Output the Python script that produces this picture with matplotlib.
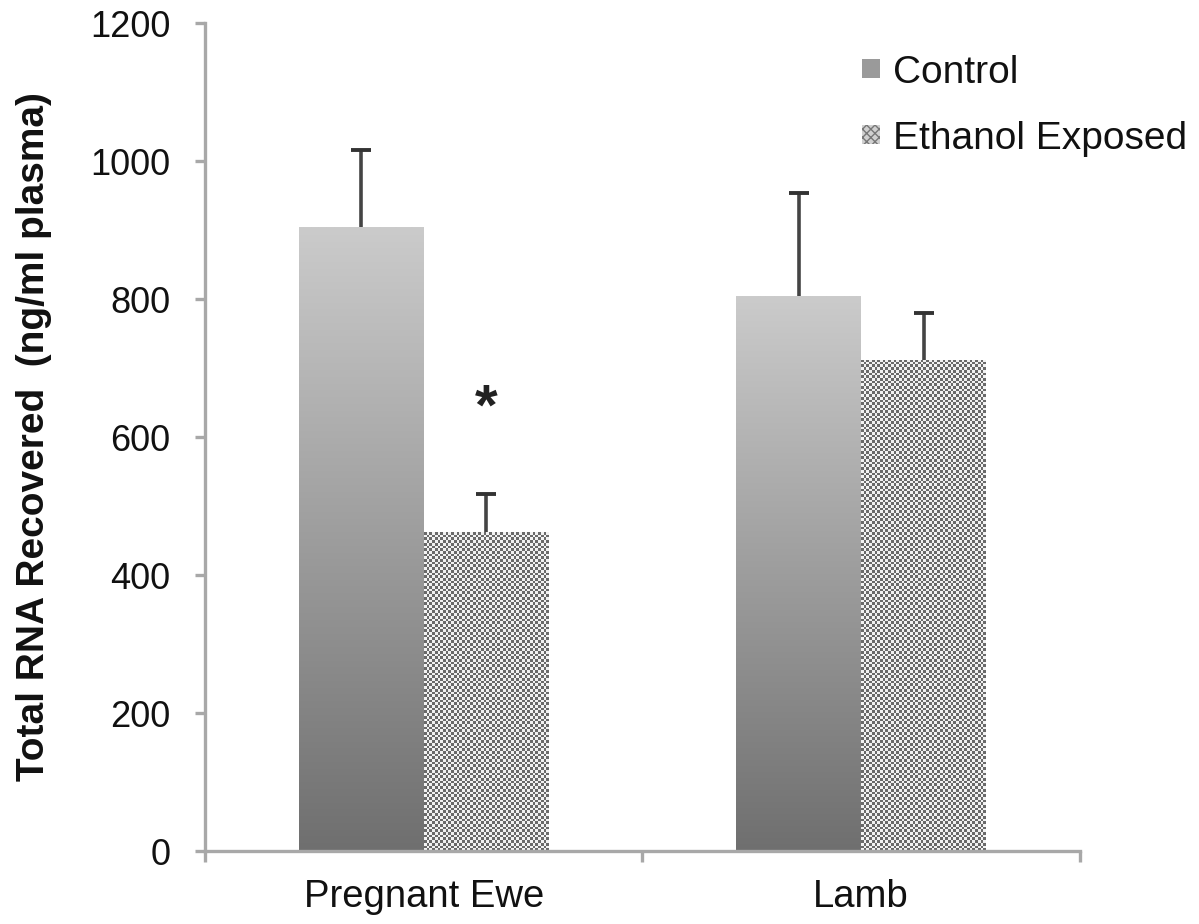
import numpy as np
import matplotlib
matplotlib.use("Agg")
import matplotlib.pyplot as plt
from matplotlib.patches import Rectangle, Patch
from matplotlib.colors import LinearSegmentedColormap

plt.rcParams['font.family'] = ['Liberation Sans', 'DejaVu Sans']

categories = ["Pregnant Ewe", "Lamb"]
series_names = ["Control", "Ethanol Exposed"]
control_vals = [904, 804]
control_err = [112, 150]
ethanol_vals = [462, 712]
ethanol_err = [55, 68]
yticks = [0, 200, 400, 600, 800, 1000, 1200]
star_value = 640

fig = plt.figure(figsize=(11.99, 9.24), dpi=100)
ax = fig.add_axes([0.171, 0.079, 0.7297, 0.896])
ax.set_xlim(-0.5, 1.5)
ax.set_ylim(0, 1200)

bw = 0.2857
x = np.arange(len(categories))

grad = np.linspace(0, 1, 256).reshape(-1, 1)
gcmap = LinearSegmentedColormap.from_list("g", ["#6f6f6f", "#cbcbcb"])
ccmap = LinearSegmentedColormap.from_list("c", ["#f2f2f2", "#6a6a6a"])

px_per_unit_x = 0.7297 * 1199 / 2.0
px_per_unit_y = 0.896 * 924 / 1200.0
cell = 2.7

for i in range(len(categories)):
    x0 = x[i] - bw
    h = control_vals[i]
    r = Rectangle((x0, 0), bw, h, facecolor='none', edgecolor='none')
    ax.add_patch(r)
    im = ax.imshow(grad, cmap=gcmap, extent=(x0, x0 + bw, 0, h), origin='lower',
                   aspect='auto', interpolation='bilinear', zorder=2)
    im.set_clip_path(r)
    x1 = x[i]
    h2 = ethanol_vals[i]
    r2 = Rectangle((x1, 0), bw, h2, facecolor='none', edgecolor='none')
    ax.add_patch(r2)
    nx = int(round(bw * px_per_unit_x / cell))
    ny = int(round(h2 * px_per_unit_y / cell))
    chk = (np.add.outer(np.arange(ny), np.arange(nx)) % 2).astype(float)
    im2 = ax.imshow(chk, cmap=ccmap, extent=(x1, x1 + bw, 0, h2), origin='lower',
                    aspect='auto', interpolation='nearest', zorder=2)
    im2.set_clip_path(r2)

ax.set_aspect('auto')
ax.set_xlim(-0.5, 1.5)
ax.set_ylim(0, 1200)

ecol = '#444444'
ex = np.concatenate([x - bw / 2, x + bw / 2])
ev = np.array(control_vals + ethanol_vals)
ee = np.array(control_err + ethanol_err)
ax.vlines(ex, ev, ev + ee, colors=ecol, linewidth=2.6, zorder=3)
ax.plot(ex, ev + ee, linestyle='none', marker='_', markersize=15,
        markeredgewidth=2.8, color='#333333', zorder=3)

ax.text(x[0] + bw / 2, star_value, '*', ha='center', va='center', fontsize=42,
        fontweight='bold', color='#222222')

axcol = '#a8a8a8'
for s in ['top', 'right']:
    ax.spines[s].set_visible(False)
for s in ['left', 'bottom']:
    ax.spines[s].set_color(axcol)
    ax.spines[s].set_linewidth(2.4)

ax.set_yticks(yticks)
ax.set_yticklabels([str(v) for v in yticks])
ax.tick_params(axis='y', direction='out', length=7, width=2.4, color=axcol,
               labelsize=26, pad=18, labelcolor='#111111')

ax.set_xticks([-0.5, 0.5, 1.5])
ax.set_xticklabels(['', '', ''])
ax.set_xticks(x, minor=True)
ax.set_xticklabels(categories, minor=True)
ax.tick_params(axis='x', which='major', direction='out', length=8, width=2.4, color=axcol)
ax.tick_params(axis='x', which='minor', length=0, labelsize=27.5, pad=20, labelcolor='#111111')

ax.set_ylabel("Total RNA Recovered  (ng/ml plasma)", fontsize=28, fontweight='bold',
              color='#111111', labelpad=27)

handles = [Patch(facecolor='#9a9a9a', edgecolor='none'),
           Patch(facecolor='#d0d0d0', edgecolor='#777777', hatch='xxxx', linewidth=0)]
leg = ax.legend(handles, series_names, loc='upper left', bbox_to_anchor=(0.751, 0.962),
                borderpad=0, borderaxespad=0, frameon=False, fontsize=28,
                handlelength=0.45, handleheight=0.4,
                handletextpad=0.35, labelspacing=0.77)
for t in leg.get_texts():
    t.set_color('#111111')

fig.savefig("out.png", dpi=100)
